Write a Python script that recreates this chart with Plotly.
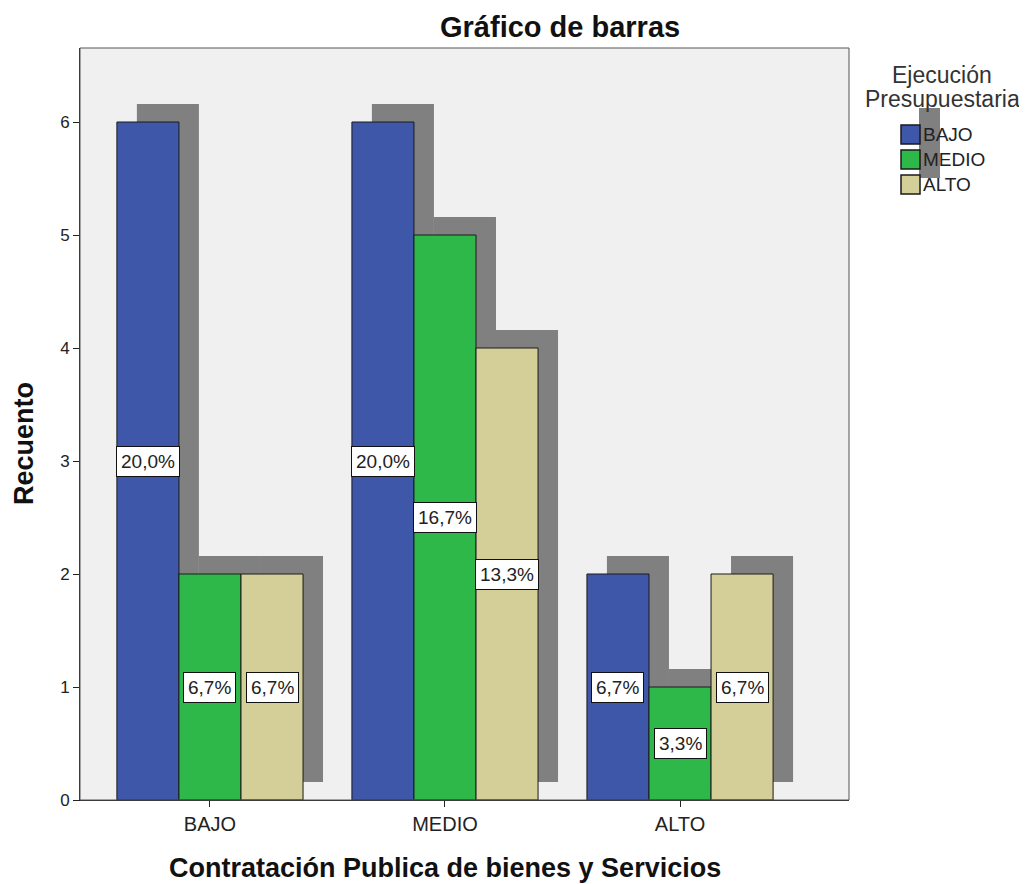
import plotly.graph_objects as go

categories = ["BAJO", "MEDIO", "ALTO"]
series_names = ["BAJO", "MEDIO", "ALTO"]
values_bajo = [6, 6, 2]
values_medio = [2, 5, 1]
values_alto = [2, 4, 2]
pct_bajo = ["20,0%", "20,0%", "6,7%"]
pct_medio = ["6,7%", "16,7%", "3,3%"]
pct_alto = ["6,7%", "13,3%", "6,7%"]
colors = ["#3f57a9", "#2fb84a", "#d4cf98"]
y_ticks = [0, 1, 2, 3, 4, 5, 6]

series = [values_bajo, values_medio, values_alto]
pcts = [pct_bajo, pct_medio, pct_alto]
offsets = [-0.264, 0.0, 0.264]
width = 0.264
sh_dx = 0.085
sh_dy = 0.16

FONT = "Liberation Sans, Arial, sans-serif"

# page offset (body margin) ~8px; plot area on page: x 80..849, y 48..800
L, T, PW, PH = 72, 40, 769, 752
W, H = 1019, 876


def px(x):
    return (x - 80) / PW


def py(y):
    return (800 - y) / PH


fig = go.Figure()
xs = list(range(len(categories)))

# shadows
for s, vals in enumerate(series):
    fig.add_trace(go.Bar(
        x=[x + offsets[s] + sh_dx for x in xs], y=vals, base=[sh_dy] * len(vals),
        width=width, marker=dict(color="#808080", line=dict(width=0)),
        showlegend=False, hoverinfo="skip"))

for s, vals in enumerate(series):
    fig.add_trace(go.Bar(
        x=[x + offsets[s] for x in xs], y=vals, width=width, name=series_names[s],
        marker=dict(color=colors[s], line=dict(color="#1a1a1a", width=1)),
        showlegend=False))
    for i, v in enumerate(vals):
        fig.add_annotation(x=i + offsets[s], y=v / 2, text=pcts[s][i], showarrow=False,
                           bgcolor="white", bordercolor="#111111", borderwidth=1, borderpad=4,
                           font=dict(family=FONT, size=19, color="#222222"))

# manual legend
fig.add_shape(type="rect", xref="paper", yref="paper",
              x0=px(919), x1=px(940), y0=py(178), y1=py(108),
              fillcolor="#808080", line=dict(width=0), layer="below")
fig.add_annotation(xref="paper", yref="paper", x=px(942), y=py(75), text="Ejecución",
                   showarrow=False, xanchor="center", yanchor="middle",
                   font=dict(family=FONT, size=23, color="#333333"))
fig.add_annotation(xref="paper", yref="paper", x=px(942), y=py(99), text="Presupuestaria",
                   showarrow=False, xanchor="center", yanchor="middle",
                   font=dict(family=FONT, size=23, color="#333333"))
for s, name in enumerate(series_names):
    yc = 134.5 + 25 * s
    fig.add_shape(type="rect", xref="paper", yref="paper",
                  x0=px(901), x1=px(920), y0=py(yc + 9.5), y1=py(yc - 9.5),
                  fillcolor=colors[s], line=dict(color="#1a1a1a", width=1.5), layer="above")
    fig.add_annotation(xref="paper", yref="paper", x=px(921), y=py(yc), text=name,
                       showarrow=False, xanchor="left", yanchor="middle",
                       font=dict(family=FONT, size=19, color="#222222"))

# titles
fig.add_annotation(xref="paper", yref="paper", x=px(560), y=py(27), text="<b>Gráfico de barras</b>",
                   showarrow=False, xanchor="center", yanchor="middle",
                   font=dict(family=FONT, size=29, color="#111111"))
fig.add_annotation(xref="paper", yref="paper", x=px(444.5), y=py(868),
                   text="<b>Contratación Publica de bienes y Servicios</b>",
                   showarrow=False, xanchor="center", yanchor="middle",
                   font=dict(family=FONT, size=27, color="#111111"))
fig.add_annotation(xref="paper", yref="paper", x=px(24), y=py(444), text="<b>Recuento</b>",
                   showarrow=False, xanchor="center", yanchor="middle", textangle=-90,
                   font=dict(family=FONT, size=27, color="#111111"))

fig.update_layout(
    width=W, height=H,
    margin=dict(l=L, r=W - L - PW, t=T, b=H - T - PH, autoexpand=False),
    barmode="overlay",
    showlegend=False,
    plot_bgcolor="#f0f0f0", paper_bgcolor="white",
    font=dict(family=FONT, size=17, color="#222222"),
    xaxis=dict(range=[-0.553, 2.719], tickvals=xs, ticktext=categories,
               showgrid=False, zeroline=False, showline=True, linecolor="#222222", linewidth=1,
               ticks="outside", ticklen=6, tickcolor="#222222", automargin=False,
               tickfont=dict(size=20)),
    yaxis=dict(range=[0, 6.655], tickvals=y_ticks,
               showgrid=False, zeroline=False, showline=True, linecolor="#222222", linewidth=1,
               ticks="outside", ticklen=6, tickcolor="#222222", automargin=False,
               tickfont=dict(size=17)),
)
# frame on top/right
fig.add_shape(type="rect", xref="paper", yref="paper", x0=0, x1=1, y0=0, y1=1,
              line=dict(color="#555555", width=1), layer="above")

fig.write_html("out.html")
